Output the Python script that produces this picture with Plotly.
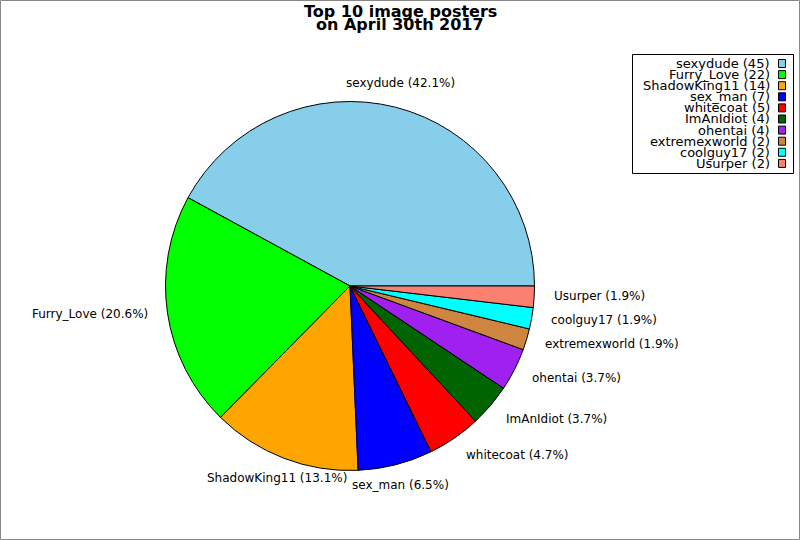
import math
import plotly.graph_objects as go

names = ["sexydude", "Furry_Love", "ShadowKing11", "sex_man", "whitecoat",
         "ImAnIdiot", "ohentai", "extremexworld", "coolguy17", "Usurper"]
counts = [45, 22, 14, 7, 5, 4, 4, 2, 2, 2]
colors = ["#87CEEB", "#00FF00", "#FFA500", "#0000FF", "#FF0000",
          "#006400", "#A020F0", "#CD853F", "#00FFFF", "#FA8072"]
title_lines = ["Top 10 image posters", "on April 30th 2017"]

W, H = 800, 540
CX, CY, R = 350.0, 286.0, 184.5
FONT = "DejaVu Sans"


def px(x):
    return x / W


def py(y):
    return 1 - y / H


total = sum(counts)
fig = go.Figure()
fig.add_trace(go.Pie(
    labels=names, values=counts, sort=False, direction="counterclockwise",
    rotation=90 - 360 * counts[0] / total, textinfo="none",
    hoverinfo="label+value+percent",
    marker=dict(colors=colors, line=dict(color="black", width=1)),
    domain=dict(x=[px(CX - R), px(CX + R)], y=[py(CY + R), py(CY - R)]),
    showlegend=False,
))

annotations = []
shapes = []

# slice labels
cum = 0
for name, c in zip(names, counts):
    mid = (cum + c / 2) / total * 2 * math.pi
    cum += c
    co, si = math.cos(mid), math.sin(mid)
    ax = CX + 1.1 * R * co
    ay = CY - 1.1 * R * si
    if abs(co) < 0.45:
        xa = "center"
    elif co > 0:
        xa = "left"
    else:
        xa = "right"
    annotations.append(dict(
        x=px(ax), y=py(ay), xref="paper", yref="paper", showarrow=False,
        text=f"{name} ({100 * c / total:.1f}%)", xanchor=xa, yanchor="middle",
        yshift=2 + 4.8 * si, borderpad=0,
        font=dict(family=FONT, size=12, color="black"),
    ))

# title
for i, t in enumerate(title_lines):
    annotations.append(dict(
        x=px(400), y=py(11 + 14 * i), xref="paper", yref="paper", showarrow=False,
        text=f"<b>{t}</b>", xanchor="center", yanchor="middle", borderpad=0,
        font=dict(family=FONT, size=16, color="black"),
    ))

# legend
LX0, LX1, LY0, LY1 = 632, 793, 54, 173
shapes.append(dict(type="rect", xref="paper", yref="paper",
                   x0=px(LX0 + 0.5), x1=px(LX1 + 0.5), y0=py(LY0 + 0.5), y1=py(LY1 + 0.5),
                   line=dict(color="black", width=1), fillcolor="white", layer="below"))
for i, (name, c, col) in enumerate(zip(names, counts, colors)):
    yc = 63.5 + 11.1 * i
    annotations.append(dict(
        x=px(771), y=py(yc), xref="paper", yref="paper", showarrow=False,
        text=f"{name} ({c})", xanchor="right", yanchor="middle", borderpad=0,
        font=dict(family=FONT, size=13, color="black"),
    ))
    shapes.append(dict(type="rect", xref="paper", yref="paper",
                       x0=px(778.5), x1=px(785.5), y0=py(yc + 4), y1=py(yc - 4),
                       line=dict(color="black", width=1), fillcolor=col))

# outer border
shapes.append(dict(type="rect", xref="paper", yref="paper",
                   x0=px(0.5), x1=px(W - 0.5), y0=py(H - 0.5), y1=py(0.5),
                   line=dict(color="#888888", width=1)))

fig.update_layout(
    width=W, height=H, margin=dict(l=0, r=0, t=0, b=0, pad=0),
    paper_bgcolor="white", plot_bgcolor="white",
    annotations=annotations, shapes=shapes, showlegend=False,
)
fig.write_html(
    "out.html",
    config={"displayModeBar": False},
    post_script="document.body.style.margin='0';document.body.style.overflow='hidden';",
)
